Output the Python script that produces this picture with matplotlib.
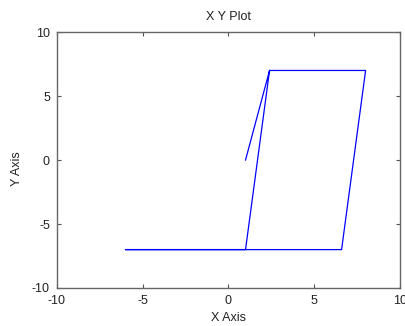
import matplotlib
matplotlib.use("Agg")
import matplotlib.pyplot as plt

# path of the loop, in drawing order
x_vals = [1.0, 2.4, 8.0, 6.6, -6.0, 1.0, 2.4]
y_vals = [0.0, 7.0, 7.0, -7.0, -7.0, -7.0, 7.0]
ticks = [-10, -5, 0, 5, 10]

plt.rcParams['font.family'] = ['Liberation Sans', 'DejaVu Sans']
plt.rcParams['axes.unicode_minus'] = False

fig = plt.figure(figsize=(4.06, 3.26), dpi=100)
ax = fig.add_axes([0.140, 0.1166, 0.845, 0.785])
ax.plot(x_vals, y_vals, '-', color='#0000ff', linewidth=0.9)

ax.set_xlim(-10, 10)
ax.set_ylim(-10, 10)
ax.set_xticks(ticks)
ax.set_yticks(ticks)
ax.tick_params(direction='in', top=True, right=True, length=3, width=0.8,
               colors='#555555', labelcolor='#222222', labelsize=9, pad=5)
for s in ax.spines.values():
    s.set_color('#666666')
    s.set_linewidth(1.0)

ax.set_title('X Y Plot', fontsize=9, color='#222222', pad=9)
ax.set_xlabel('X Axis', fontsize=9, color='#222222')
ax.xaxis.set_label_coords(0.5, -0.094)
ax.set_ylabel('Y Axis', fontsize=9, color='#222222')
ax.yaxis.set_label_coords(-0.10, 0.465)

fig.savefig('out.png', dpi=100)
